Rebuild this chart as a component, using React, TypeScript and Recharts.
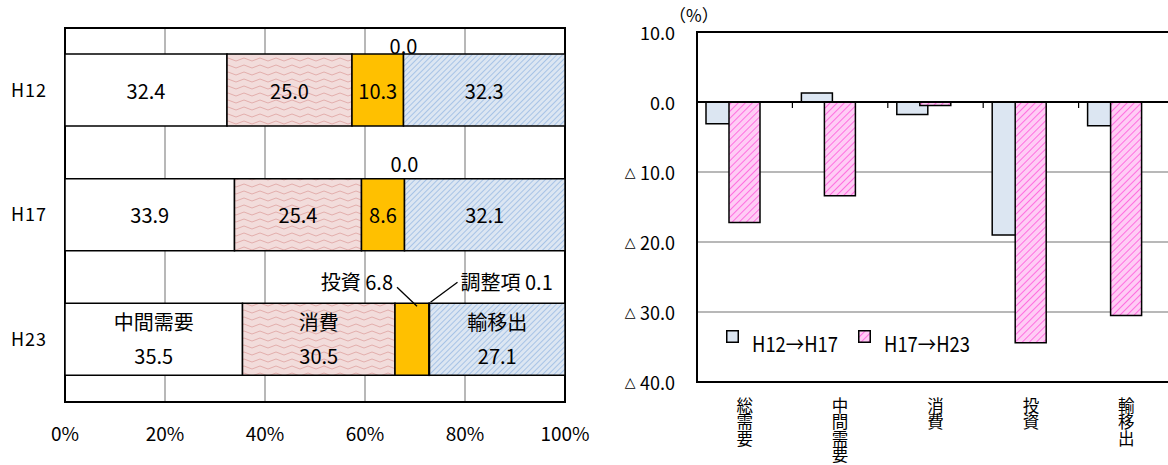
import {
  Bar,
  BarChart,
  CartesianGrid,
  LabelList,
  Rectangle,
  ReferenceArea,
  ReferenceLine,
  XAxis,
  YAxis,
} from 'recharts';

// left: composition of demand (%)
const years = ['H12', 'H17', 'H23'];
const intermediate = [32.4, 33.9, 35.5];
const consumption = [25.0, 25.4, 30.5];
const investment = [10.3, 8.6, 6.8];
const adjustment = [0.0, 0.0, 0.1];
const exportsOut = [32.3, 32.1, 27.1];
const shareTicks = [0, 20, 40, 60, 80, 100];

// right: rate of change (%)
const items = ['総需要', '中間需要', '消費', '投資', '輸移出'];
const change0517 = [-3.1, 1.3, -1.8, -19.0, -3.4];
const change1723 = [-17.2, -13.4, -0.5, -34.4, -30.5];
const changeTicks = [-40, -30, -20, -10, 0, 10];

const FONT = "'Noto Sans CJK JP', 'Noto Sans', sans-serif";

const shareData = years.map((name, i) => ({
  name,
  中間需要: intermediate[i],
  消費: consumption[i],
  投資: investment[i],
  調整項: adjustment[i],
  輸移出: exportsOut[i],
}));

const shareSeries = [
  { key: '中間需要', fill: '#ffffff' },
  { key: '消費', fill: 'url(#wave)' },
  { key: '投資', fill: '#ffc000' },
  { key: '調整項', fill: '#ffffff' },
  { key: '輸移出', fill: 'url(#blueDiag)' },
];

const changeData = items.map((name, i) => ({
  name,
  'H12→H17': change0517[i],
  'H17→H23': change1723[i],
}));

const txt = { fontFamily: FONT, fontSize: 20, fill: '#000' };

// the 調整項 slice is (almost) zero wide, so its label is drawn from the
// left edge of the 輸移出 slice that follows it
function adjustmentLabel(x: number, y: number, index: number) {
  const value = adjustment[index].toFixed(1);
  if (index === 2) {
    return (
      <g>
        <line x1={x + 28} y1={y - 21} x2={x + 1} y2={y - 1} stroke="#000" strokeWidth={1.3} />
        <text x={x + 31} y={y - 22} dominantBaseline="central" {...txt}>
          {`調整項 ${value}`}
        </text>
      </g>
    );
  }
  return (
    <text x={x} y={y - (index === 0 ? 9 : 15)} textAnchor="middle" dominantBaseline="central" {...txt}>
      {value}
    </text>
  );
}

function shareLabel(series: string) {
  return (props: any) => {
    const box = props.viewBox ?? props;
    const { x, y, width, height } = box;
    const index = props.index;
    const value = Number(props.value).toFixed(1);
    const cx = x + width / 2;
    const cy = y + height / 2;
    if (series === '投資' && index === 2) {
      return (
        <g>
          <line x1={cx - 15} y1={y - 16} x2={cx + 5} y2={y + 3} stroke="#000" strokeWidth={1.3} />
          <text x={cx - 19} y={y - 22} textAnchor="end" dominantBaseline="central" {...txt}>
            {`${series} ${value}`}
          </text>
        </g>
      );
    }
    const extra = series === '輸移出' ? adjustmentLabel(x, y, index) : null;
    if (index === 2) {
      return (
        <g>
          <text x={cx} y={cy - 18} textAnchor="middle" dominantBaseline="central" {...txt}>
            {series}
          </text>
          <text x={cx} y={cy + 16} textAnchor="middle" dominantBaseline="central" {...txt}>
            {value}
          </text>
          {extra}
        </g>
      );
    }
    return (
      <g>
        <text x={cx} y={cy} textAnchor="middle" dominantBaseline="central" {...txt}>
          {value}
        </text>
        {extra}
      </g>
    );
  };
}

function ChangeTick({ x, y, payload }: any) {
  const v = Number(payload.value);
  return (
    <text x={x} y={y} textAnchor="end" dominantBaseline="central" fontFamily={FONT} fontSize={18} fill="#000">
      {v < 0 && <tspan fontSize={14} fontFamily="'DejaVu Sans', sans-serif">{'△ '}</tspan>}
      <tspan>{Math.abs(v).toFixed(1)}</tspan>
    </text>
  );
}

// category names are written top to bottom
function VerticalTick({ x, y, payload }: any) {
  return (
    <text
      x={x}
      y={y}
      fontFamily={FONT}
      fontSize={16.5}
      fill="#000"
      style={{ writingMode: 'vertical-rl' }}
    >
      {payload.value}
    </text>
  );
}

// zero line with small marks between categories
function ZeroLine(props: any) {
  const { x1, x2, y1 } = props;
  const step = (x2 - x1) / items.length;
  return (
    <g>
      <line x1={x1} x2={x2} y1={y1} y2={y1} stroke="#000" strokeWidth={2} />
      {items.slice(1).map((_, i) => (
        <line
          key={i}
          x1={x1 + step * (i + 1)}
          x2={x1 + step * (i + 1)}
          y1={y1}
          y2={y1 + 6}
          stroke="#000"
          strokeWidth={1.2}
        />
      ))}
    </g>
  );
}

const shifted = (props: any) => <Rectangle {...props} x={props.x - 12} />;

function ChangeLegend() {
  return (
    <svg width={270} height={30}>
      <rect x={0.75} y={2.75} width={11.5} height={11.5} fill="#dce6f2" stroke="#000" strokeWidth={1.5} />
      <text x={26} y={15} dominantBaseline="central" fontFamily={FONT} fontSize={21} textLength={86} lengthAdjust="spacingAndGlyphs">
        H12→H17
      </text>
      <rect x={132.75} y={2.75} width={11.5} height={11.5} fill="url(#pinkDiag)" stroke="#000" strokeWidth={1.5} />
      <text x={158} y={15} dominantBaseline="central" fontFamily={FONT} fontSize={21} textLength={86} lengthAdjust="spacingAndGlyphs">
        H17→H23
      </text>
    </svg>
  );
}

export default function App() {
  return (
    <div style={{ position: 'absolute', left: 0, top: 0, width: 1168, height: 465, overflow: 'hidden', background: '#fff' }}>
      <svg width={0} height={0} style={{ position: 'absolute' }}>
        <defs>
          <pattern id="wave" width={16} height={7} patternUnits="userSpaceOnUse">
            <rect width={16} height={7} fill="#f2dcdb" />
            <path d="M0 3.5 Q4 0.5 8 3.5 T16 3.5" fill="none" stroke="#e2aeac" strokeWidth={1} />
          </pattern>
          <pattern id="blueDiag" width={4} height={4} patternUnits="userSpaceOnUse" patternTransform="rotate(45)">
            <rect width={4} height={4} fill="#dce6f2" />
            <line x1={0} y1={0} x2={0} y2={4} stroke="#95b8e3" strokeWidth={1.5} />
          </pattern>
          <pattern id="pinkDiag" width={5} height={5} patternUnits="userSpaceOnUse" patternTransform="rotate(45)">
            <rect width={5} height={5} fill="#ffccf5" />
            <line x1={0} y1={0} x2={0} y2={5} stroke="#ff6fe0" strokeWidth={2} />
          </pattern>
        </defs>
      </svg>

      <div style={{ position: 'absolute', left: 0, top: 0 }}>
        <BarChart
          width={600}
          height={465}
          data={shareData}
          layout="vertical"
          margin={{ top: 28, right: 35, bottom: 23, left: 10 }}
          barSize={72}
        >
          <CartesianGrid horizontal={false} stroke="#a0a0a0" strokeWidth={1.5} />
          <XAxis
            type="number"
            domain={[0, 100]}
            ticks={shareTicks}
            tickFormatter={(v) => `${v}%`}
            axisLine={false}
            tickLine={false}
            tickSize={0}
            tickMargin={26}
            height={40}
            tick={{ fontFamily: FONT, fontSize: 19, fill: '#000' }}
            interval={0}
          />
          <YAxis
            type="category"
            dataKey="name"
            width={55}
            axisLine={false}
            tickLine={false}
            tickSize={0}
            tickMargin={18}
            tick={{ fontFamily: FONT, fontSize: 18, fill: '#000', letterSpacing: 1 }}
          />
          {shareSeries.map((s) => (
            <Bar
              key={s.key}
              dataKey={s.key}
              stackId="share"
              fill={s.fill}
              stroke="#000"
              strokeWidth={1.5}
              isAnimationActive={false}
            >
              {s.key !== '調整項' && <LabelList dataKey={s.key} content={shareLabel(s.key)} />}
            </Bar>
          ))}
          <ReferenceArea x1={0} x2={100} fill="none" stroke="#000" strokeWidth={2} />
        </BarChart>
      </div>

      <div style={{ position: 'absolute', left: 600, top: 0 }}>
        <BarChart
          width={600}
          height={465}
          data={changeData}
          margin={{ top: 32, right: 26, bottom: 3, left: 0 }}
          barSize={31}
          barGap={-8}
        >
          <CartesianGrid vertical={false} stroke="#a0a0a0" strokeWidth={1.5} />
          <XAxis
            dataKey="name"
            axisLine={false}
            tickLine={false}
            tickSize={0}
            tickMargin={15}
            height={80}
            interval={0}
            tick={<VerticalTick />}
          />
          <YAxis
            domain={[-40, 10]}
            ticks={changeTicks}
            width={97}
            axisLine={false}
            tickLine={false}
            tickSize={0}
            tickMargin={22}
            tick={<ChangeTick />}
            interval={0}
          />
          <Bar
            dataKey="H12→H17"
            fill="#dce6f2"
            stroke="#000"
            strokeWidth={1.5}
            shape={shifted}
            isAnimationActive={false}
          />
          <Bar
            dataKey="H17→H23"
            fill="url(#pinkDiag)"
            stroke="#000"
            strokeWidth={1.5}
            shape={shifted}
            isAnimationActive={false}
          />
          <ReferenceLine y={0} shape={ZeroLine} />
          <ReferenceArea y1={-40} y2={10} fill="none" stroke="#000" strokeWidth={2} />
        </BarChart>
        <div style={{ position: 'absolute', left: 126, top: 328 }}>
          <ChangeLegend />
        </div>
        <div style={{ position: 'absolute', left: 69, top: 2, fontFamily: FONT, fontSize: 17, color: '#000' }}>
          （%）
        </div>
      </div>
    </div>
  );
}
